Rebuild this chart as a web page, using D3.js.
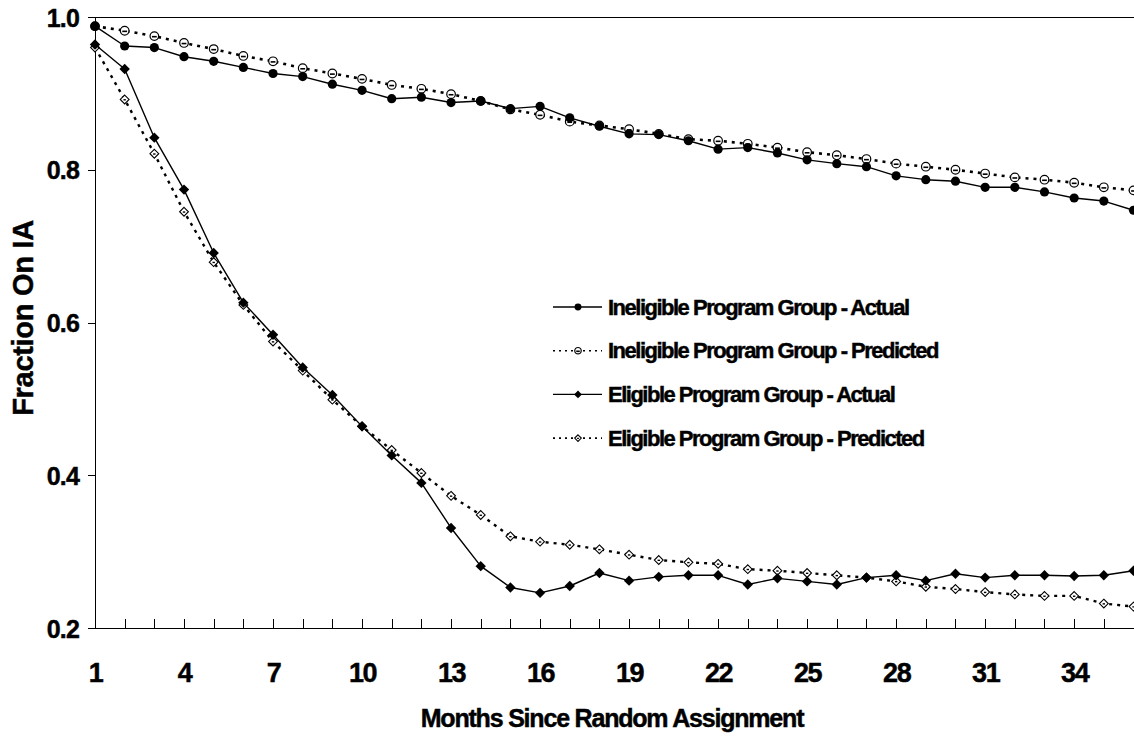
<!DOCTYPE html>
<html>
<head>
<meta charset="utf-8">
<script src="https://cdn.jsdelivr.net/npm/d3@7"></script>
<style>
  html, body { margin: 0; padding: 0; background: #fff; }
  svg { display: block; font-family: "Liberation Sans", Arial, sans-serif; font-weight: bold; }
  svg text { stroke: #000; stroke-width: 0.45px; fill: #000; }
</style>
</head>
<body>
<svg id="chart" width="1134" height="740"></svg>
<script>
// Months since random assignment (category axis)
const months = [1,2,3,4,5,6,7,8,9,10,11,12,13,14,15,16,17,18,19,20,21,22,23,24,25,26,27,28,29,30,31,32,33,34,35,36];
const monthLabels = [1,4,7,10,13,16,19,22,25,28,31,34];
const yTicks = [0.2,0.4,0.6,0.8,1.0];

// Fraction on IA by month
const ineligibleActual = [0.988,0.962,0.960,0.948,0.942,0.934,0.926,0.922,0.912,0.904,0.893,0.895,0.888,0.890,0.880,0.883,0.868,0.857,0.847,0.846,0.838,0.827,0.829,0.822,0.813,0.808,0.804,0.792,0.787,0.785,0.777,0.777,0.771,0.763,0.759,0.747];
const ineligiblePredicted = [0.988,0.982,0.975,0.966,0.958,0.949,0.942,0.933,0.926,0.919,0.911,0.906,0.899,0.890,0.879,0.872,0.863,0.858,0.853,0.847,0.840,0.838,0.834,0.829,0.823,0.819,0.814,0.808,0.804,0.800,0.795,0.790,0.787,0.783,0.777,0.773];
const eligibleActual = [0.964,0.932,0.842,0.774,0.691,0.626,0.584,0.541,0.505,0.464,0.426,0.390,0.331,0.281,0.253,0.246,0.255,0.272,0.262,0.267,0.269,0.269,0.257,0.265,0.261,0.257,0.266,0.269,0.262,0.271,0.266,0.269,0.269,0.268,0.269,0.275];
const eligiblePredicted = [0.960,0.892,0.821,0.745,0.679,0.623,0.575,0.537,0.499,0.464,0.433,0.403,0.373,0.348,0.320,0.313,0.309,0.303,0.296,0.289,0.286,0.284,0.277,0.275,0.272,0.269,0.266,0.261,0.254,0.251,0.247,0.244,0.242,0.242,0.232,0.228];

const seriesNames = [
  "Ineligible Program Group - Actual",
  "Ineligible Program Group - Predicted",
  "Eligible Program Group - Actual",
  "Eligible Program Group - Predicted"
];

const svg = d3.select("#chart");
const plotLeft = 95, plotRight = 1133.5, plotTop = 17, plotBottom = 628;

const x = d3.scaleLinear().domain([1, 36]).range([plotLeft, plotRight]);
const y = d3.scaleLinear().domain([0.2, 1.0]).range([plotBottom, plotTop]);

// plot frame (top edge runs off the right side)
svg.append("line")
  .attr("x1", plotLeft).attr("x2", 1134).attr("y1", plotTop).attr("y2", plotTop)
  .attr("stroke", "#000").attr("stroke-width", 1).attr("shape-rendering", "crispEdges");

// y axis
const yAxis = svg.append("g")
  .attr("transform", `translate(${plotLeft},0)`)
  .call(d3.axisLeft(y).tickValues(yTicks).tickFormat(d3.format(".1f"))
        .tickSize(7).tickSizeOuter(0).tickPadding(9));
yAxis.select(".domain").attr("stroke", "#000").attr("shape-rendering", "crispEdges");
yAxis.selectAll(".tick line").attr("stroke", "#000").attr("shape-rendering", "crispEdges");
yAxis.selectAll(".tick text")
  .attr("font-family", "'Liberation Sans', Arial, sans-serif")
  .attr("font-weight", "bold").attr("font-size", 25)
  .attr("letter-spacing", -0.8)
  .attr("dy", "0.36em").attr("x", -16);

// x axis, ticks point into the plot
const xAxis = svg.append("g")
  .attr("transform", `translate(0,${plotBottom})`)
  .call(d3.axisBottom(x).tickValues(months)
        .tickFormat(d => monthLabels.includes(d) ? d : "")
        .tickSize(-9).tickSizeOuter(0));
xAxis.select(".domain").attr("stroke", "#000").attr("stroke-width", 1.3).attr("shape-rendering", "crispEdges");
xAxis.selectAll(".tick line").attr("stroke", "#000").attr("shape-rendering", "crispEdges");
xAxis.selectAll(".tick text")
  .attr("font-family", "'Liberation Sans', Arial, sans-serif")
  .attr("font-weight", "bold").attr("font-size", 27)
  .attr("letter-spacing", -1.4)
  .attr("y", 54).attr("dy", 0);

// axis titles
svg.append("text")
  .attr("x", 612).attr("y", 727)
  .attr("text-anchor", "middle")
  .attr("font-size", 25).attr("letter-spacing", -1.2)
  .text("Months Since Random Assignment");

svg.append("text")
  .attr("transform", "translate(33,318) rotate(-90)")
  .attr("text-anchor", "middle")
  .attr("font-size", 29).attr("letter-spacing", -0.3)
  .text("Fraction On IA");

// marker drawing
function diamondPath(r) {
  return `M0,${-r}L${r},0L0,${r}L${-r},0Z`;
}
function drawMarker(g, kind, scale) {
  const s = scale || 1;
  if (kind === "circleFilled") {
    g.append("circle").attr("r", 4.6 * s).attr("fill", "#000");
  } else if (kind === "circleOpen") {
    g.append("circle").attr("r", 4.3 * s).attr("fill", "#fff")
      .attr("stroke", "#000").attr("stroke-width", 1.2);
    g.append("line").attr("x1", -2.4 * s).attr("x2", 2.4 * s)
      .attr("y1", 0.6).attr("y2", 0.6)
      .attr("stroke", "#000").attr("stroke-width", 1.6);
  } else if (kind === "diamondFilled") {
    g.append("path").attr("d", diamondPath(5.2 * s)).attr("fill", "#000");
  } else if (kind === "diamondOpen") {
    g.append("path").attr("d", diamondPath(4.4 * s)).attr("fill", "#fff")
      .attr("stroke", "#000").attr("stroke-width", 1.1);
    g.append("line").attr("x1", -1.2 * s).attr("x2", 1.2 * s)
      .attr("y1", 0.3).attr("y2", 0.3)
      .attr("stroke", "#000").attr("stroke-width", 1.4);
  }
}

const series = [
  { name: seriesNames[0], values: ineligibleActual,    dash: null,  width: 1.4, marker: "circleFilled" },
  { name: seriesNames[1], values: ineligiblePredicted, dash: "3,5", width: 2.6, marker: "circleOpen" },
  { name: seriesNames[2], values: eligibleActual,      dash: null,  width: 1.4, marker: "diamondFilled" },
  { name: seriesNames[3], values: eligiblePredicted,   dash: "3,5", width: 2.4, marker: "diamondOpen" }
];

const line = d3.line().x((d, i) => x(months[i])).y(d => y(d));

// predicted series underneath, actual series on top
[series[3], series[1], series[2], series[0]].forEach(s => {
  const g = svg.append("g");
  g.append("path")
    .attr("d", line(s.values))
    .attr("fill", "none").attr("stroke", "#000")
    .attr("stroke-width", s.width)
    .attr("stroke-dasharray", s.dash)
    .attr("stroke-linejoin", "round");
  s.values.forEach((v, i) => {
    const m = g.append("g").attr("transform", `translate(${x(months[i])},${y(v)})`);
    drawMarker(m, s.marker, 1);
  });
});

// legend
const legend = svg.append("g").attr("transform", "translate(553,307)");
series.forEach((s, i) => {
  const row = legend.append("g").attr("transform", `translate(0,${i * 43.7})`);
  row.append("line")
    .attr("x1", 0).attr("x2", 49).attr("y1", 0).attr("y2", 0)
    .attr("stroke", "#000")
    .attr("stroke-width", s.dash ? 1.6 : 1.4)
    .attr("stroke-dasharray", s.dash ? "2,4" : null);
  const m = row.append("g").attr("transform", "translate(25,0)");
  drawMarker(m, s.marker, 0.75);
  row.append("text")
    .attr("x", 55).attr("y", 7.5)
    .attr("font-size", 22).attr("letter-spacing", -1.5)
    .text(s.name);
});
</script>
</body>
</html>
